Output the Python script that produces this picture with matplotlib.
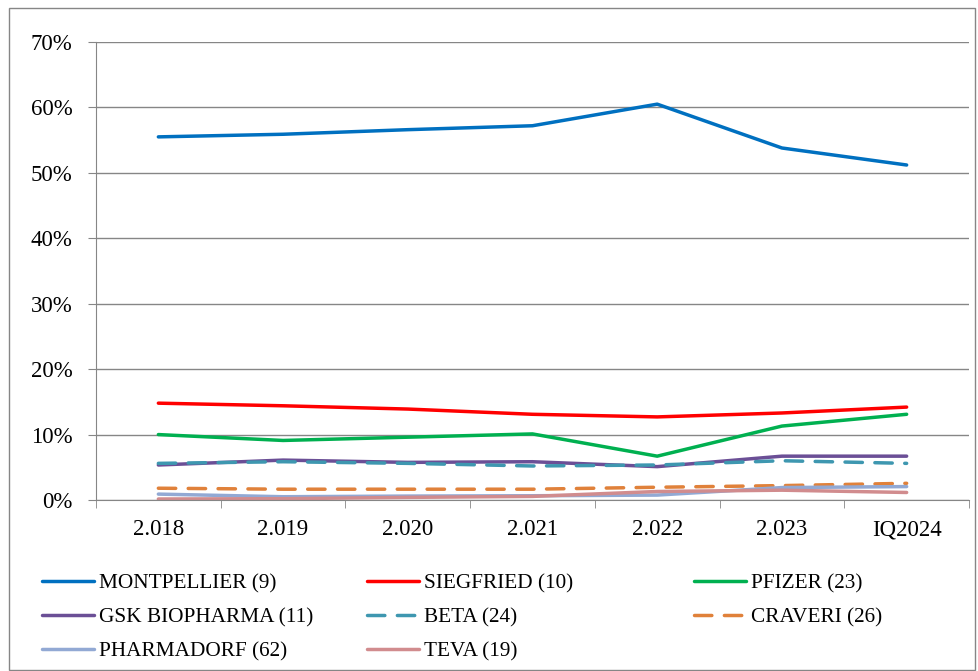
import matplotlib.pyplot as plt
from matplotlib.patches import Rectangle

# categorias y series (porcentaje de participacion)
years = ["2.018", "2.019", "2.020", "2.021", "2.022", "2.023", "IQ2024"]

montpellier = [55.5, 55.9, 56.6, 57.2, 60.5, 53.8, 51.2]
siegfried = [14.8, 14.4, 13.9, 13.1, 12.7, 13.3, 14.2]
pfizer = [10.0, 9.1, 9.6, 10.1, 6.7, 11.3, 13.1]
gsk = [5.35, 6.1, 5.75, 5.85, 5.1, 6.7, 6.7]
beta = [5.6, 5.85, 5.6, 5.2, 5.35, 6.0, 5.6]
craveri = [1.8, 1.65, 1.65, 1.65, 1.95, 2.2, 2.55]
pharmadorf = [0.9, 0.5, 0.6, 0.65, 0.75, 1.9, 2.05]
teva = [0.15, 0.2, 0.4, 0.55, 1.3, 1.5, 1.15]

labels = ["MONTPELLIER (9)", "SIEGFRIED (10)", "PFIZER (23)",
          "GSK BIOPHARMA (11)", "BETA (24)", "CRAVERI (26)",
          "PHARMADORF (62)", "TEVA (19)"]
series = [montpellier, siegfried, pfizer, gsk, beta, craveri, pharmadorf, teva]
colors = ["#0070C0", "#FF0000", "#00B050", "#6B4F96",
          "#3E97B0", "#E0813A", "#92A9D4", "#D18C8E"]
dashed = [False, False, False, False, True, True, False, False]

plt.rcParams["font.family"] = ["Liberation Serif", "DejaVu Serif"]

fig = plt.figure(figsize=(9.79, 6.71), dpi=100)
# marco exterior del grafico
fig.add_artist(Rectangle((9 / 979, 1 - 670 / 671), 966 / 979, 662 / 671,
                         transform=fig.transFigure, fill=False,
                         edgecolor="#868686", linewidth=1.0))

ax = fig.add_axes([96 / 979, 1 - 500 / 671, 873 / 979, 458 / 671])

x = list(range(len(years)))
handles = []
for vals, lab, col, dsh in zip(series, labels, colors, dashed):
    if dsh:
        line, = ax.plot(x, vals, color=col, linewidth=2.5, label=lab,
                        dashes=(5.0, 3.6), solid_capstyle="round",
                        dash_capstyle="round")
    else:
        line, = ax.plot(x, vals, color=col, linewidth=2.5, label=lab,
                        solid_capstyle="round")
    handles.append(line)

ax.set_xlim(-0.5, len(years) - 0.5)
ax.set_ylim(0, 70)
ax.set_yticks(range(0, 71, 10))
ax.set_yticklabels([f"{v}%" for v in range(0, 71, 10)], fontsize=16.5)
ax.set_xticks(x)
ax.set_xticklabels(years, fontsize=16.5)
ax.set_xticks([i - 0.5 for i in range(len(years) + 1)], minor=True)
ax.tick_params(axis="x", which="major", length=0, pad=14)
ax.tick_params(axis="x", which="minor", length=5.8, color="#868686")
ax.tick_params(axis="y", length=5.8, color="#868686", pad=11)

ax.grid(axis="y", color="#868686", linewidth=1.0)
ax.set_axisbelow(True)
for side in ["top", "right"]:
    ax.spines[side].set_visible(False)
ax.spines["left"].set_color("#868686")
ax.spines["bottom"].set_color("#868686")

# leyenda en tres columnas
cols = [[0, 3, 6], [1, 4, 7], [2, 5]]
col_x = [42 / 979, 367 / 979, 694 / 979]
for cx, idx in zip(col_x, cols):
    fig.legend([handles[i] for i in idx], [labels[i] for i in idx],
               loc="upper left", bbox_to_anchor=(cx, 1 - 574 / 671),
               frameon=False, fontsize=15.3, handlelength=2.45,
               handletextpad=0.25, labelspacing=0.65, borderpad=0,
               borderaxespad=0)

fig.savefig("out.png", dpi=100)
